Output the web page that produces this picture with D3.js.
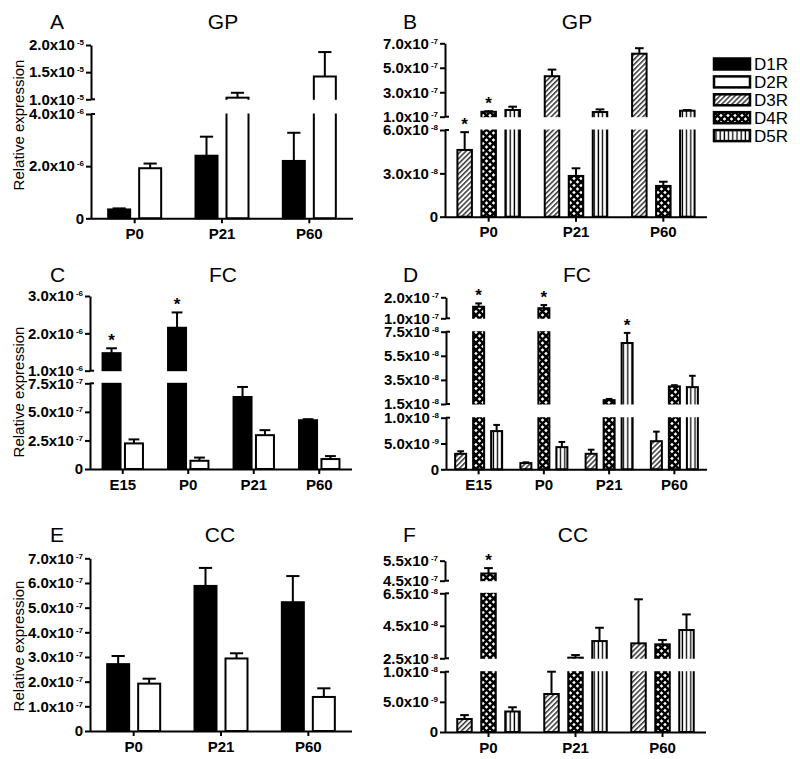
<!DOCTYPE html>
<html><head><meta charset="utf-8">
<script src="https://cdn.jsdelivr.net/npm/d3@7"></script>
<style>body{margin:0;background:#fff} svg{display:block;font-family:"Liberation Sans",Arial,sans-serif}</style>
</head><body><svg id="c" width="800" height="759"></svg>
<script>
// ---------------- DATA ----------------
const receptors = ["D1R","D2R","D3R","D4R","D5R"];
const agesGP = ["P0","P21","P60"];
const agesFC = ["E15","P0","P21","P60"];
const agesCC = ["P0","P21","P60"];

// Panel A: GP, D1R/D2R (mean, SEM)
const gpD1R = [3.4e-7, 2.4e-6, 2.2e-6];
const gpD1Rerr = [0.4e-7, 0.73e-6, 1.08e-6];
const gpD2R = [1.92e-6, 1.03e-5, 1.42e-5];
const gpD2Rerr = [0.18e-6, 0.09e-5, 0.45e-5];
const gpD1Rsig = [0,0,0];
const gpD2Rsig = [0,0,0];
// Panel B: GP, D3R/D4R/D5R
const gpD3R = [4.62e-8, 4.31e-7, 6.15e-7];
const gpD3Rerr = [1.23e-8, 0.54e-7, 0.45e-7];
const gpD4R = [1.4e-7, 2.82e-8, 2.13e-8];
const gpD4Rerr = [0.05e-7, 0.53e-8, 0.29e-8];
const gpD5R = [1.55e-7, 1.38e-7, 1.49e-7];
const gpD5Rerr = [0.27e-7, 0.22e-7, 0.05e-7];
const gpD3Rsig = [1,0,0];
const gpD4Rsig = [1,0,0];
const gpD5Rsig = [0,0,0];
// Panel C: FC, D1R/D2R
const fcD1R = [1.47e-6, 2.15e-6, 6.3e-7, 4.27e-7];
const fcD1Rerr = [0.13e-6, 0.41e-6, 0.88e-7, 0.09e-7];
const fcD2R = [2.24e-7, 7.2e-8, 2.96e-7, 8.7e-8];
const fcD2Rerr = [0.35e-7, 2.8e-8, 0.44e-7, 2.6e-8];
const fcD1Rsig = [1,1,0,0];
const fcD2Rsig = [0,0,0,0];
// Panel D: FC, D3R/D4R/D5R
const fcD3R = [3.0e-9, 1.2e-9, 3.0e-9, 5.45e-9];
const fcD3Rerr = [0.5e-9, 0.15e-9, 0.8e-9, 1.85e-9];
const fcD4R = [1.55e-7, 1.48e-7, 1.82e-8, 2.96e-8];
const fcD4Rerr = [0.16e-7, 0.15e-7, 0.1e-8, 0.1e-8];
const fcD5R = [7.4e-9, 4.3e-9, 6.56e-8, 2.9e-8];
const fcD5Rerr = [1.2e-9, 1.0e-9, 0.84e-8, 0.94e-8];
const fcD3Rsig = [0,0,0,0];
const fcD4Rsig = [1,1,0,0];
const fcD5Rsig = [0,0,1,0];
// Panel E: CC, D1R/D2R
const ccD1R = [2.71e-7, 5.88e-7, 5.22e-7];
const ccD1Rerr = [0.33e-7, 0.73e-7, 1.06e-7];
const ccD2R = [1.92e-7, 2.94e-7, 1.38e-7];
const ccD2Rerr = [0.2e-7, 0.21e-7, 0.35e-7];
const ccD1Rsig = [0,0,0];
const ccD2Rsig = [0,0,0];
// Panel F: CC, D3R/D4R/D5R
const ccD3R = [2.15e-9, 6.3e-9, 3.42e-8];
const ccD3Rerr = [0.65e-9, 3.7e-9, 2.71e-8];
const ccD4R = [4.86e-7, 2.54e-8, 3.36e-8];
const ccD4Rerr = [0.27e-7, 0.16e-8, 0.27e-8];
const ccD5R = [3.4e-9, 3.56e-8, 4.24e-8];
const ccD5Rerr = [0.7e-9, 0.82e-8, 0.96e-8];
const ccD3Rsig = [0,0,0];
const ccD4Rsig = [1,0,0];
const ccD5Rsig = [0,0,0];

// Broken-axis segments (value domains) and tick values
const segA = [[0,4e-6],[1e-5,2e-5]];
const ticksA = [[0,2e-6,4e-6],[1e-5,1.5e-5,2e-5]];
const segB = [[0,6e-8],[1e-7,7e-7]];
const ticksB = [[0,3e-8,6e-8],[1e-7,3e-7,5e-7,7e-7]];
const segC = [[0,7.5e-7],[1e-6,3e-6]];
const ticksC = [[0,2.5e-7,5e-7,7.5e-7],[1e-6,2e-6,3e-6]];
const segD = [[0,1e-8],[1.5e-8,7.5e-8],[1e-7,2e-7]];
const ticksD = [[0,5e-9,1e-8],[1.5e-8,3.5e-8,5.5e-8,7.5e-8],[1e-7,2e-7]];
const segE = [[0,7e-7]];
const ticksE = [[0,1e-7,2e-7,3e-7,4e-7,5e-7,6e-7,7e-7]];
const segF = [[0,1e-8],[2.5e-8,6.5e-8],[4.5e-7,5.5e-7]];
const ticksF = [[0,5e-9,1e-8],[2.5e-8,4.5e-8,6.5e-8],[4.5e-7,5.5e-7]];

// ---------------- LAYOUT ----------------
const panels = [
  {letter:"A", title:"GP", cats:agesGP, series:["D1R","D2R"], vals:[gpD1R,gpD2R], errs:[gpD1Rerr,gpD2Rerr], sig:[gpD1Rsig,gpD2Rsig],
   seg:segA, ticks:ticksA, segPx:[[218.3,114],[99.3,45]], axisX:91, xEnd:353, subStep:31, barW:22,
   lx:50, titleX:223, ty:29, ylab:125},
  {letter:"B", title:"GP", cats:agesGP, series:["D3R","D4R","D5R"], vals:[gpD3R,gpD4R,gpD5R], errs:[gpD3Rerr,gpD4Rerr,gpD5Rerr], sig:[gpD3Rsig,gpD4Rsig,gpD5Rsig],
   seg:segB, ticks:ticksB, segPx:[[216.7,130],[116.7,43.3]], axisX:445, xEnd:707, subStep:24, barW:14.5,
   lx:403, titleX:577, ty:29},
  {letter:"C", title:"FC", cats:agesFC, series:["D1R","D2R"], vals:[fcD1R,fcD2R], errs:[fcD1Rerr,fcD2Rerr], sig:[fcD1Rsig,fcD2Rsig],
   seg:segC, ticks:ticksC, segPx:[[469,383.3],[370.7,296]], axisX:90, xEnd:352, subStep:22.4, barW:18,
   lx:50, titleX:223, ty:282, ylab:392},
  {letter:"D", title:"FC", cats:agesFC, series:["D3R","D4R","D5R"], vals:[fcD3R,fcD4R,fcD5R], errs:[fcD3Rerr,fcD4Rerr,fcD5Rerr], sig:[fcD3Rsig,fcD4Rsig,fcD5Rsig],
   seg:segD, ticks:ticksD, segPx:[[469.3,417.7],[404,331.7],[318.3,297.3]], axisX:446, xEnd:707, subStep:18, barW:11,
   lx:403, titleX:577, ty:282},
  {letter:"E", title:"CC", cats:agesCC, series:["D1R","D2R"], vals:[ccD1R,ccD2R], errs:[ccD1Rerr,ccD2Rerr], sig:[ccD1Rsig,ccD2Rsig],
   seg:segE, ticks:ticksE, segPx:[[731,558.3]], axisX:90, xEnd:352, subStep:31, barW:22,
   lx:50, titleX:220, ty:542, ylab:646},
  {letter:"F", title:"CC", cats:agesCC, series:["D3R","D4R","D5R"], vals:[ccD3R,ccD4R,ccD5R], errs:[ccD3Rerr,ccD4Rerr,ccD5Rerr], sig:[ccD3Rsig,ccD4Rsig,ccD5Rsig],
   seg:segF, ticks:ticksF, segPx:[[732,671.7],[658.3,593.3],[580.7,560.7]], axisX:445, xEnd:706, subStep:24, barW:14.5,
   lx:403, titleX:573, ty:542}
];

const svg = d3.select("#c");
const defs = svg.append("defs");
// D3R diagonal hatch
const p3 = defs.append("pattern").attr("id","pD3R").attr("patternUnits","userSpaceOnUse")
  .attr("width",3.6).attr("height",3.6).attr("patternTransform","rotate(45)");
p3.append("rect").attr("width",3.6).attr("height",3.6).attr("fill","#fff");
p3.append("line").attr("x1",0.8).attr("y1",0).attr("x2",0.8).attr("y2",3.6).attr("stroke","#000").attr("stroke-width",1.2);
// D4R cross hatch
const p4 = defs.append("pattern").attr("id","pD4R").attr("patternUnits","userSpaceOnUse")
  .attr("width",7).attr("height",7);
p4.append("rect").attr("width",7).attr("height",7).attr("fill","#fff");
p4.append("path").attr("d","M-1,-1L8,8M-1,8L8,-1").attr("stroke","#000").attr("stroke-width",2.4);
// D5R vertical lines
const p5 = defs.append("pattern").attr("id","pD5R").attr("patternUnits","userSpaceOnUse")
  .attr("width",4.2).attr("height",4);
p5.append("rect").attr("width",4.2).attr("height",4).attr("fill","#fff");
p5.append("line").attr("x1",2).attr("y1",0).attr("x2",2).attr("y2",4).attr("stroke","#000").attr("stroke-width",1.3);

const fills = {D1R:"#000", D2R:"#fff", D3R:"url(#pD3R)", D4R:"url(#pD4R)", D5R:"url(#pD5R)"};

function fmtTick(sel){
  sel.each(function(v){
    const t = d3.select(this);
    t.text(null);
    if (v === 0) { t.text("0"); return; }
    const e = Math.floor(Math.log10(v) + 1e-9);
    const m = (v / Math.pow(10, e)).toFixed(1);
    t.append("tspan").text(m + "x10");
    t.append("tspan").attr("dx", 2).attr("dy", -5).attr("font-size", 8).text(String(e));
  });
}

panels.forEach(p => {
  const g = svg.append("g");
  const domAll = p.seg.flat();
  const rngAll = p.segPx.flat();
  const y = d3.scaleLinear().domain(domAll).range(rngAll);
  const y0 = p.segPx[0][0];
  const xc = d3.scaleBand().domain(p.cats).range([p.axisX, p.xEnd]);
  const n = p.series.length;
  const xs = d3.scaleBand().domain(p.series).range([-n*p.subStep/2, n*p.subStep/2]);
  const cx = (ci, s) => xc(p.cats[ci]) + xc.bandwidth()/2 + xs(s) + xs.bandwidth()/2;

  // bars
  p.series.forEach((s, si) => {
    p.vals[si].forEach((v, ci) => {
      g.append("rect")
        .attr("x", cx(ci, s) - p.barW/2).attr("y", y(v))
        .attr("width", p.barW).attr("height", y0 - y(v))
        .attr("fill", fills[s]).attr("stroke", "#000").attr("stroke-width", 2);
    });
  });
  // gap overlays
  for (let k = 0; k < p.seg.length - 1; k++) {
    const top = p.segPx[k+1][0], bot = p.segPx[k][1];
    g.append("rect").attr("x", p.axisX + 1).attr("y", top + 0.5)
      .attr("width", p.xEnd - p.axisX + 2).attr("height", bot - top - 1).attr("fill", "#fff");
  }
  // error bars & stars
  p.series.forEach((s, si) => {
    p.vals[si].forEach((v, ci) => {
      const e = p.errs[si][ci];
      const x = cx(ci, s), yt = y(v + e), cw = p.barW * 0.6;
      g.append("line").attr("x1", x).attr("x2", x).attr("y1", y(v)).attr("y2", yt)
        .attr("stroke", "#000").attr("stroke-width", 2);
      g.append("line").attr("x1", x - cw/2).attr("x2", x + cw/2).attr("y1", yt).attr("y2", yt)
        .attr("stroke", "#000").attr("stroke-width", 2);
      if (p.sig[si][ci]) {
        g.append("text").attr("x", x).attr("y", yt - 2).attr("text-anchor", "middle")
          .attr("font-size", 17).attr("font-weight", "bold").text("*");
      }
    });
  });
  // y axis segments
  p.seg.forEach((dom, k) => {
    const sc = d3.scaleLinear().domain(dom).range(p.segPx[k]);
    const ax = g.append("g").attr("transform", `translate(${p.axisX},0)`)
      .call(d3.axisLeft(sc).tickValues(p.ticks[k]).tickSize(5).tickSizeOuter(0).tickPadding(2));
    ax.select(".domain").attr("stroke-width", 2);
    ax.selectAll(".tick line").attr("stroke-width", 2);
    ax.selectAll(".tick text").attr("font-size", 15).attr("font-weight", "bold").attr("fill", "#000")
      .attr("font-family", '"Liberation Sans",Arial,sans-serif').call(fmtTick);
    // break caps
    if (k > 0) g.append("line").attr("x1", p.axisX).attr("x2", p.axisX + 4)
      .attr("y1", p.segPx[k][0]).attr("y2", p.segPx[k][0]).attr("stroke", "#000").attr("stroke-width", 2);
    if (k < p.seg.length - 1) g.append("line").attr("x1", p.axisX).attr("x2", p.axisX + 4)
      .attr("y1", p.segPx[k][1]).attr("y2", p.segPx[k][1]).attr("stroke", "#000").attr("stroke-width", 2);
  });
  // x axis
  const xa = g.append("g").attr("transform", `translate(0,${y0})`)
    .call(d3.axisBottom(xc).tickSize(5).tickSizeOuter(0).tickPadding(5));
  xa.select(".domain").attr("stroke-width", 2).attr("d", `M${p.axisX},0.5H${p.xEnd}`);
  xa.selectAll(".tick line").attr("stroke-width", 2);
  xa.selectAll(".tick text").attr("font-size", 15).attr("font-weight", "bold").attr("fill", "#000")
    .attr("font-family", '"Liberation Sans",Arial,sans-serif');

  // letter and title
  g.append("text").attr("x", p.lx).attr("y", p.ty).attr("font-size", 21).text(p.letter);
  g.append("text").attr("x", p.titleX).attr("y", p.ty).attr("font-size", 21).attr("text-anchor", "middle").text(p.title);
  if (p.ylab) {
    g.append("text").attr("transform", `translate(18,${p.ylab}) rotate(-90)`)
      .attr("text-anchor", "middle").attr("dominant-baseline", "central").attr("font-size", 15)
      .text("Relative expression");
  }
});

// legend
const lg = svg.append("g");
receptors.forEach((r, i) => {
  const top = 58.5 + i * 17.9;
  lg.append("rect").attr("x", 714).attr("y", top).attr("width", 36).attr("height", 11)
    .attr("fill", fills[r]).attr("stroke", "#000").attr("stroke-width", 2.5);
  lg.append("text").attr("x", 754).attr("y", top + 11.5).attr("font-size", 17).text(r);
});
</script></body></html>
